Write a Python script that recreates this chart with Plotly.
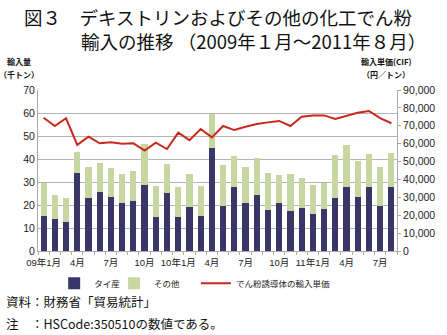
import plotly.graph_objects as go

months = [f"{y}-{m:02d}" for y in (2009, 2010, 2011) for m in range(1, 13)][:32]
tick_labels = ["09年1月", "", "", "4月", "", "", "7月", "", "", "10月", "", "",
               "10年1月", "", "", "4月", "", "", "7月", "", "", "10月", "", "",
               "11年1月", "", "", "4月", "", "", "7月", ""]

thai = [15.3, 14.1, 12.7, 33.9, 23.2, 25.8, 23.6, 21.0, 21.9, 28.8, 14.6, 25.4,
        14.6, 19.3, 15.2, 44.6, 19.7, 28.0, 20.7, 24.3, 17.8, 21.0, 17.4, 18.5,
        15.9, 18.1, 22.9, 27.7, 23.3, 28.0, 19.6, 27.7]
total = [29.4, 24.3, 22.9, 43.2, 36.4, 38.1, 36.2, 33.5, 34.6, 46.4, 28.4, 37.7,
         27.7, 33.5, 28.3, 59.4, 37.4, 41.2, 36.4, 40.3, 33.8, 32.9, 33.5, 31.6,
         28.7, 29.7, 41.7, 45.9, 39.1, 42.0, 36.4, 42.5]
other = [round(t - s, 1) for t, s in zip(total, thai)]
price = [74500, 69900, 74200, 59300, 63900, 60200, 60800, 60000, 60200, 56100, 60600, 57000,
         66200, 62000, 68200, 63500, 69900, 67600, 69500, 71000, 71900, 72700, 69900, 75100,
         75700, 75800, 73800, 75700, 77300, 78300, 74300, 71400]

JP = "Noto Sans CJK JP"
NUM = "Liberation Sans, " + JP

fig = go.Figure()
fig.add_bar(x=months, y=thai, name="タイ産", marker_color="#3b3668", marker_line_width=0,
            legend="legend")
fig.add_bar(x=months, y=other, name="その他", marker_color="#c6d7a2", marker_line_width=0,
            legend="legend2")
fig.add_scatter(x=months, y=price, name="でん粉誘導体の輸入単価", mode="lines",
                line=dict(color="#c8281e", width=2), yaxis="y2", legend="legend3")

leg = dict(orientation="h", y=-0.2, xanchor="left", yanchor="middle",
           font=dict(family=JP, size=8.5, color="#222"),
           itemwidth=30, bgcolor="rgba(0,0,0,0)")

fig.update_layout(
    width=447, height=335,
    margin=dict(l=38, r=41, t=90, b=84),
    paper_bgcolor="white", plot_bgcolor="white",
    barmode="stack", bargap=0.45,
    font=dict(family=NUM, size=10, color="#222"),
    showlegend=True,
    legend=dict(leg, x=0.045),
    legend2=dict(leg, x=0.2120),
    legend3=dict(leg, x=0.4400),
    xaxis=dict(type="category", tickvals=months, ticktext=tick_labels,
               tickson="boundaries", ticks="outside", ticklen=3, tickcolor="#aaa",
               showline=True, linecolor="#aaa", linewidth=1, ticklabelstandoff=3,
               tickfont=dict(family=NUM, size=9.5, color="#222"), tickangle=0,
               range=[-0.5, 31.5]),
    yaxis=dict(range=[0, 70], dtick=10, showgrid=True, gridcolor="#b5b5b5",
               gridwidth=1, showline=True, linecolor="#aaa", zeroline=False,
               ticks="", tickfont=dict(family=NUM, size=10.5, color="#222")),
    yaxis2=dict(range=[0, 90000], dtick=10000, overlaying="y", side="right",
                showgrid=False, showline=True, linecolor="#aaa", zeroline=False,
                ticks="outside", ticklen=3, tickcolor="#aaa", tickformat=",",
                tickfont=dict(family=NUM, size=10.5, color="#222")),
)

ann = [
    dict(text="図３　デキストリンおよびその他の化工でん粉", x=22, y=16.5, size=18.5, xanchor="left"),
    dict(text="輸入の推移 （2009年１月～2011年８月）", x=80, y=40.5, size=18.5, xanchor="left"),
    dict(text="<b>輸入量</b>", x=19, y=61, size=8, xanchor="center"),
    dict(text="<b>（千トン）</b>", x=19, y=75, size=8, xanchor="center"),
    dict(text="<b>輸入単価(CIF)</b>", x=395, y=61, size=8, xanchor="center"),
    dict(text="<b>（円／トン）</b>", x=395, y=75, size=8, xanchor="center"),
    dict(text="資料：財務省「貿易統計」", x=3, y=301, size=12.5, xanchor="left"),
    dict(text="注　：HSCode:350510の数値である。", x=3, y=323, size=12.5, xanchor="left"),
]
for a in ann:
    fig.add_annotation(text=a["text"], xref="paper", yref="paper",
                       x=(a["x"] - 38) / 368, y=(251 - a["y"]) / 161,
                       xanchor=a["xanchor"], yanchor="middle", showarrow=False,
                       font=dict(family=JP, size=a["size"], color="#111"))

fig.write_html("out.html")
